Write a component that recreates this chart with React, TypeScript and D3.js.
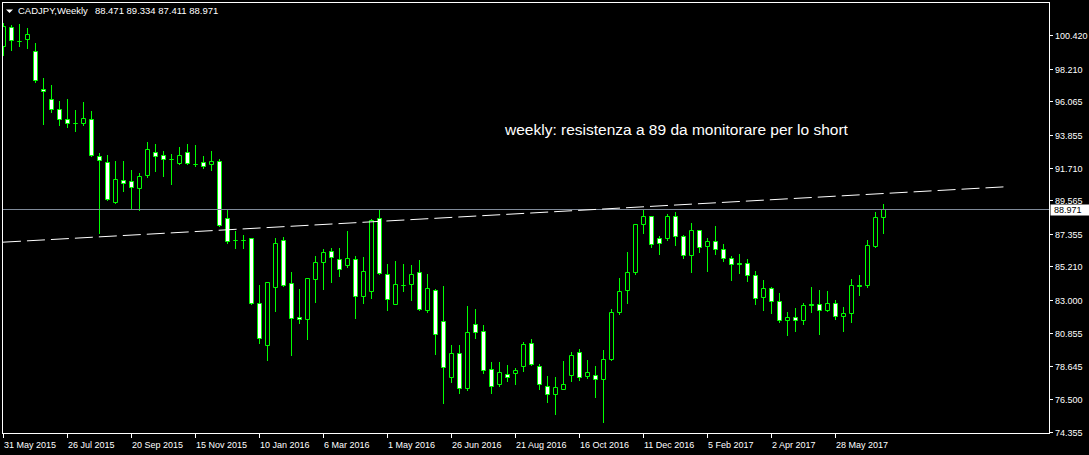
import React, { useEffect } from 'react';
import * as d3 from 'd3';

const symbolTitle = 'CADJPY,Weekly';
const lastQuote = [88.471, 89.334, 87.411, 88.971];

const opens = [
  99.72, 100.94, 100.04, 100.18, 99.35, 96.89, 96.21, 95.56, 94.91, 94.63,
  94.62, 94.91, 92.49, 92.09, 89.48, 90.89, 90.85, 90.37, 91.22, 92.75,
  92.55, 92.28, 92.0, 92.7, 91.95, 92.09, 91.94, 92.16, 88.37, 86.98,
  86.98, 87.06, 82.81, 80.03, 83.89, 86.93, 84.12, 81.89, 81.74, 84.38,
  85.49, 86.21, 85.69, 85.29, 85.69, 83.27, 83.59, 88.37, 84.7, 82.74,
  84.01, 84.05, 84.83, 82.35, 83.66, 81.63, 77.97, 79.54, 77.22, 81.43,
  80.98, 78.49, 77.48, 78.16, 78.23, 78.69, 80.19, 78.69, 77.38, 76.86,
  77.18, 78.1, 79.58, 78.03, 78.1, 77.84, 79.15, 82.22, 83.66, 84.83,
  87.97, 88.5, 87.06, 87.06, 88.5, 87.19, 85.95, 87.58, 86.54, 86.86,
  86.34, 85.75, 85.41, 85.42, 84.64, 83.2, 83.79, 82.94, 81.7, 81.89,
  81.7, 82.73, 82.74, 82.35, 82.81, 81.96, 82.15, 83.97, 83.98, 86.58,
  88.471,
];
const highs = [
  101.21, 101.07, 101.14, 100.88, 99.9, 97.61, 97.15, 96.1, 96.23, 95.52,
  96.04, 95.45, 92.64, 92.51, 92.11, 92.11, 91.53, 91.33, 93.36, 93.23,
  92.77, 92.57, 93.03, 93.29, 93.16, 92.44, 92.83, 92.25, 89.02, 87.54,
  87.27, 87.08, 84.0, 84.2, 87.08, 87.14, 84.85, 83.74, 84.45, 85.9,
  86.36, 86.42, 86.42, 87.54, 85.9, 85.84, 88.3, 88.89, 85.36, 85.55,
  85.36, 85.31, 85.62, 84.7, 83.72, 83.94, 80.08, 80.08, 82.63, 82.44,
  81.39, 78.95, 78.95, 78.71, 78.56, 80.26, 80.47, 78.82, 78.03, 77.97,
  79.01, 79.6, 79.8, 79.08, 78.69, 79.73, 82.42, 84.44, 86.14, 87.98,
  89.02, 88.51, 87.19, 88.63, 88.76, 87.27, 88.06, 87.59, 87.06, 87.84,
  86.67, 85.88, 86.01, 85.69, 84.9, 84.31, 83.85, 83.46, 82.22, 82.48,
  82.81, 83.85, 83.66, 83.59, 83.0, 82.55, 84.38, 84.64, 86.93, 88.76,
  89.334,
];
const lows = [
  99.11, 99.44, 99.7, 99.59, 97.3, 94.55, 95.34, 94.49, 94.36, 94.1,
  94.53, 92.46, 87.41, 89.56, 89.39, 90.17, 89.04, 88.93, 91.09, 91.48,
  91.15, 90.63, 91.92, 91.96, 91.81, 91.68, 91.55, 87.84, 86.77, 86.44,
  86.44, 82.76, 80.21, 79.05, 82.26, 83.96, 79.38, 81.47, 80.43, 82.85,
  83.76, 84.22, 84.61, 85.2, 81.83, 82.78, 83.17, 84.7, 82.32, 82.73,
  83.59, 82.98, 82.32, 82.22, 79.45, 76.24, 77.62, 76.9, 77.09, 80.49,
  78.2, 76.9, 77.35, 77.68, 77.48, 78.36, 78.73, 77.16, 76.31, 75.52,
  77.16, 77.68, 77.75, 77.88, 76.63, 75.0, 79.05, 82.11, 82.78, 84.7,
  87.43, 86.51, 86.05, 86.97, 86.64, 85.75, 84.87, 86.18, 84.94, 86.01,
  85.55, 84.31, 84.77, 84.25, 82.72, 82.32, 82.15, 81.56, 80.71, 80.98,
  81.43, 82.22, 80.78, 82.28, 81.76, 80.98, 81.56, 83.31, 83.89, 86.51,
  87.411,
];
const closes = [
  101.01, 100.11, 100.02, 100.49, 97.46, 96.71, 95.53, 94.91, 94.62, 94.61,
  94.97, 92.55, 92.2, 89.65, 90.98, 90.72, 90.46, 91.18, 92.94, 92.46,
  92.27, 92.26, 92.55, 92.03, 91.93, 91.81, 92.16, 87.95, 86.9, 86.96,
  86.96, 82.81, 80.52, 84.18, 86.73, 83.98, 81.83, 81.76, 84.44, 85.49,
  86.14, 85.82, 85.03, 85.75, 83.27, 84.9, 88.24, 84.77, 83.07, 84.05,
  83.99, 84.7, 82.42, 83.79, 80.78, 78.62, 79.54, 77.22, 80.91, 80.91,
  78.43, 77.38, 78.3, 77.97, 78.43, 80.13, 78.82, 77.51, 76.86, 77.31,
  77.51, 79.41, 77.97, 78.3, 77.84, 79.15, 82.22, 83.59, 84.83, 87.97,
  88.5, 86.67, 86.73, 88.5, 87.19, 85.95, 87.58, 86.47, 86.86, 86.34,
  85.75, 85.36, 85.39, 84.64, 83.13, 83.79, 82.94, 81.7, 81.89, 81.7,
  82.68, 82.71, 82.35, 82.81, 81.96, 82.15, 83.98, 83.95, 86.6, 88.47,
  88.971,
];

const priceTicks = [100.42, 98.21, 96.065, 93.855, 91.71, 89.565, 87.355, 85.21, 83.0, 80.855, 78.645, 76.5, 74.355];
const dateTickLabels = [
  '31 May 2015', '26 Jul 2015', '20 Sep 2015', '15 Nov 2015', '10 Jan 2016', '6 Mar 2016', '1 May 2016',
  '26 Jun 2016', '21 Aug 2016', '16 Oct 2016', '11 Dec 2016', '5 Feb 2017', '2 Apr 2017', '28 May 2017',
];
const dateTickBars = [0, 8, 16, 24, 32, 40, 48, 56, 64, 72, 80, 88, 96, 104];
const trendBars = [-1, 125];
const trendPrices = [86.78, 90.44];
const annotation = 'weekly: resistenza a 89 da monitorare per lo short';

const W = 1089;
const H = 455;
const plot = { left: 2, right: 1049, top: 2, bottom: 433 };
const FONT = '"Liberation Sans", Arial, sans-serif';
const GREEN = '#00ff00';

export default function App() {
  useEffect(() => {
    document.body.style.margin = '0';
    document.body.style.background = '#000';
  }, []);

  const x = d3.scaleLinear().domain([0, 1]).range([3.5, 11.5]);
  const y = d3.scaleLinear().domain([74.355, 100.42]).range([431.7, 35]);
  const fmt = d3.format('.3f');

  const candles = opens.map((o, i) => {
    const c = closes[i];
    const cx = x(i);
    const yo = y(o);
    const yc = y(c);
    const top = Math.round(Math.min(yo, yc)) + 0.5;
    const bot = Math.round(Math.max(yo, yc)) + 0.5;
    const wTop = Math.round(y(highs[i]));
    const wBot = Math.round(y(lows[i])) + 1;
    const bear = c < o;
    const x0 = cx - 2;
    const x1 = cx + 2;
    return (
      <g key={i}>
        <line x1={cx} x2={cx} y1={wTop} y2={wBot} stroke={GREEN} strokeWidth={1} />
        <path
          d={`M${x0},${top}H${x1}V${bot}H${x0}Z`}
          fill={bear ? '#ffffff' : '#000000'}
          stroke={GREEN}
          strokeWidth={1}
        />
      </g>
    );
  });

  const lastY = Math.round(y(lastQuote[3])) + 0.5;
  const trendLine = d3.line<number>()
    .x((_, i) => x(trendBars[i]))
    .y((d) => y(d))(trendPrices);

  return (
    <svg width={W} height={H} style={{ position: 'fixed', left: 0, top: 0, display: 'block' }}>
      <defs>
        <clipPath id="plotClip">
          <rect x={plot.left + 1} y={plot.top + 1} width={plot.right - plot.left - 1} height={plot.bottom - plot.top - 1} />
        </clipPath>
      </defs>
      <rect x={0} y={0} width={W} height={H} fill="#000" />
      <g clipPath="url(#plotClip)">
        {candles}
        <line x1={plot.left} x2={plot.right} y1={lastY} y2={lastY} stroke="#7f8a99" strokeWidth={1} />
        <path d={trendLine || ''} fill="none" stroke="#ffffff" strokeWidth={1} strokeDasharray="18 6" strokeDashoffset={16.5} />
      </g>
      <rect
        x={plot.left + 0.5}
        y={plot.top + 0.5}
        width={plot.right - plot.left}
        height={plot.bottom - plot.top}
        fill="none"
        stroke="#ffffff"
        strokeWidth={1}
      />
      {/* title */}
      <path d="M6,9.5L13,9.5L9.5,13Z" fill="#ffffff" />
      <text x={18} y={14} fill="#ffffff" fontFamily={FONT} fontSize={9.5}>
        {symbolTitle}
        <tspan dx={7}>{lastQuote.map((v) => fmt(v)).join(' ')}</tspan>
      </text>
      {/* annotation */}
      <text x={505} y={134.5} fill="#ffffff" fontFamily={FONT} fontSize={15.5}>
        {annotation}
      </text>
      {/* right price axis */}
      {priceTicks.map((v) => {
        const ty = Math.round(y(v)) + 0.5;
        return (
          <g key={v}>
            <line x1={plot.right + 0.5} x2={plot.right + 4} y1={ty} y2={ty} stroke="#ffffff" />
            <text x={1055} y={ty} dy="0.35em" fill="#ffffff" fontFamily={FONT} fontSize={9}>
              {fmt(v)}
            </text>
          </g>
        );
      })}
      <rect x={1050.5} y={lastY - 5} width={39} height={11} fill="#ffffff" />
      <text x={1054} y={lastY} dy="0.35em" fill="#000000" fontFamily={FONT} fontSize={9}>
        {fmt(lastQuote[3])}
      </text>
      {/* bottom time axis */}
      {dateTickBars.map((b, i) => {
        const tx = Math.round(x(b) - 0.5) + 0.5;
        return (
          <g key={b}>
            <line x1={tx} x2={tx} y1={plot.bottom + 0.5} y2={plot.bottom + 5} stroke="#ffffff" />
            <text x={tx + 0.5} y={448} fill="#ffffff" fontFamily={FONT} fontSize={9}>
              {dateTickLabels[i]}
            </text>
          </g>
        );
      })}
    </svg>
  );
}
